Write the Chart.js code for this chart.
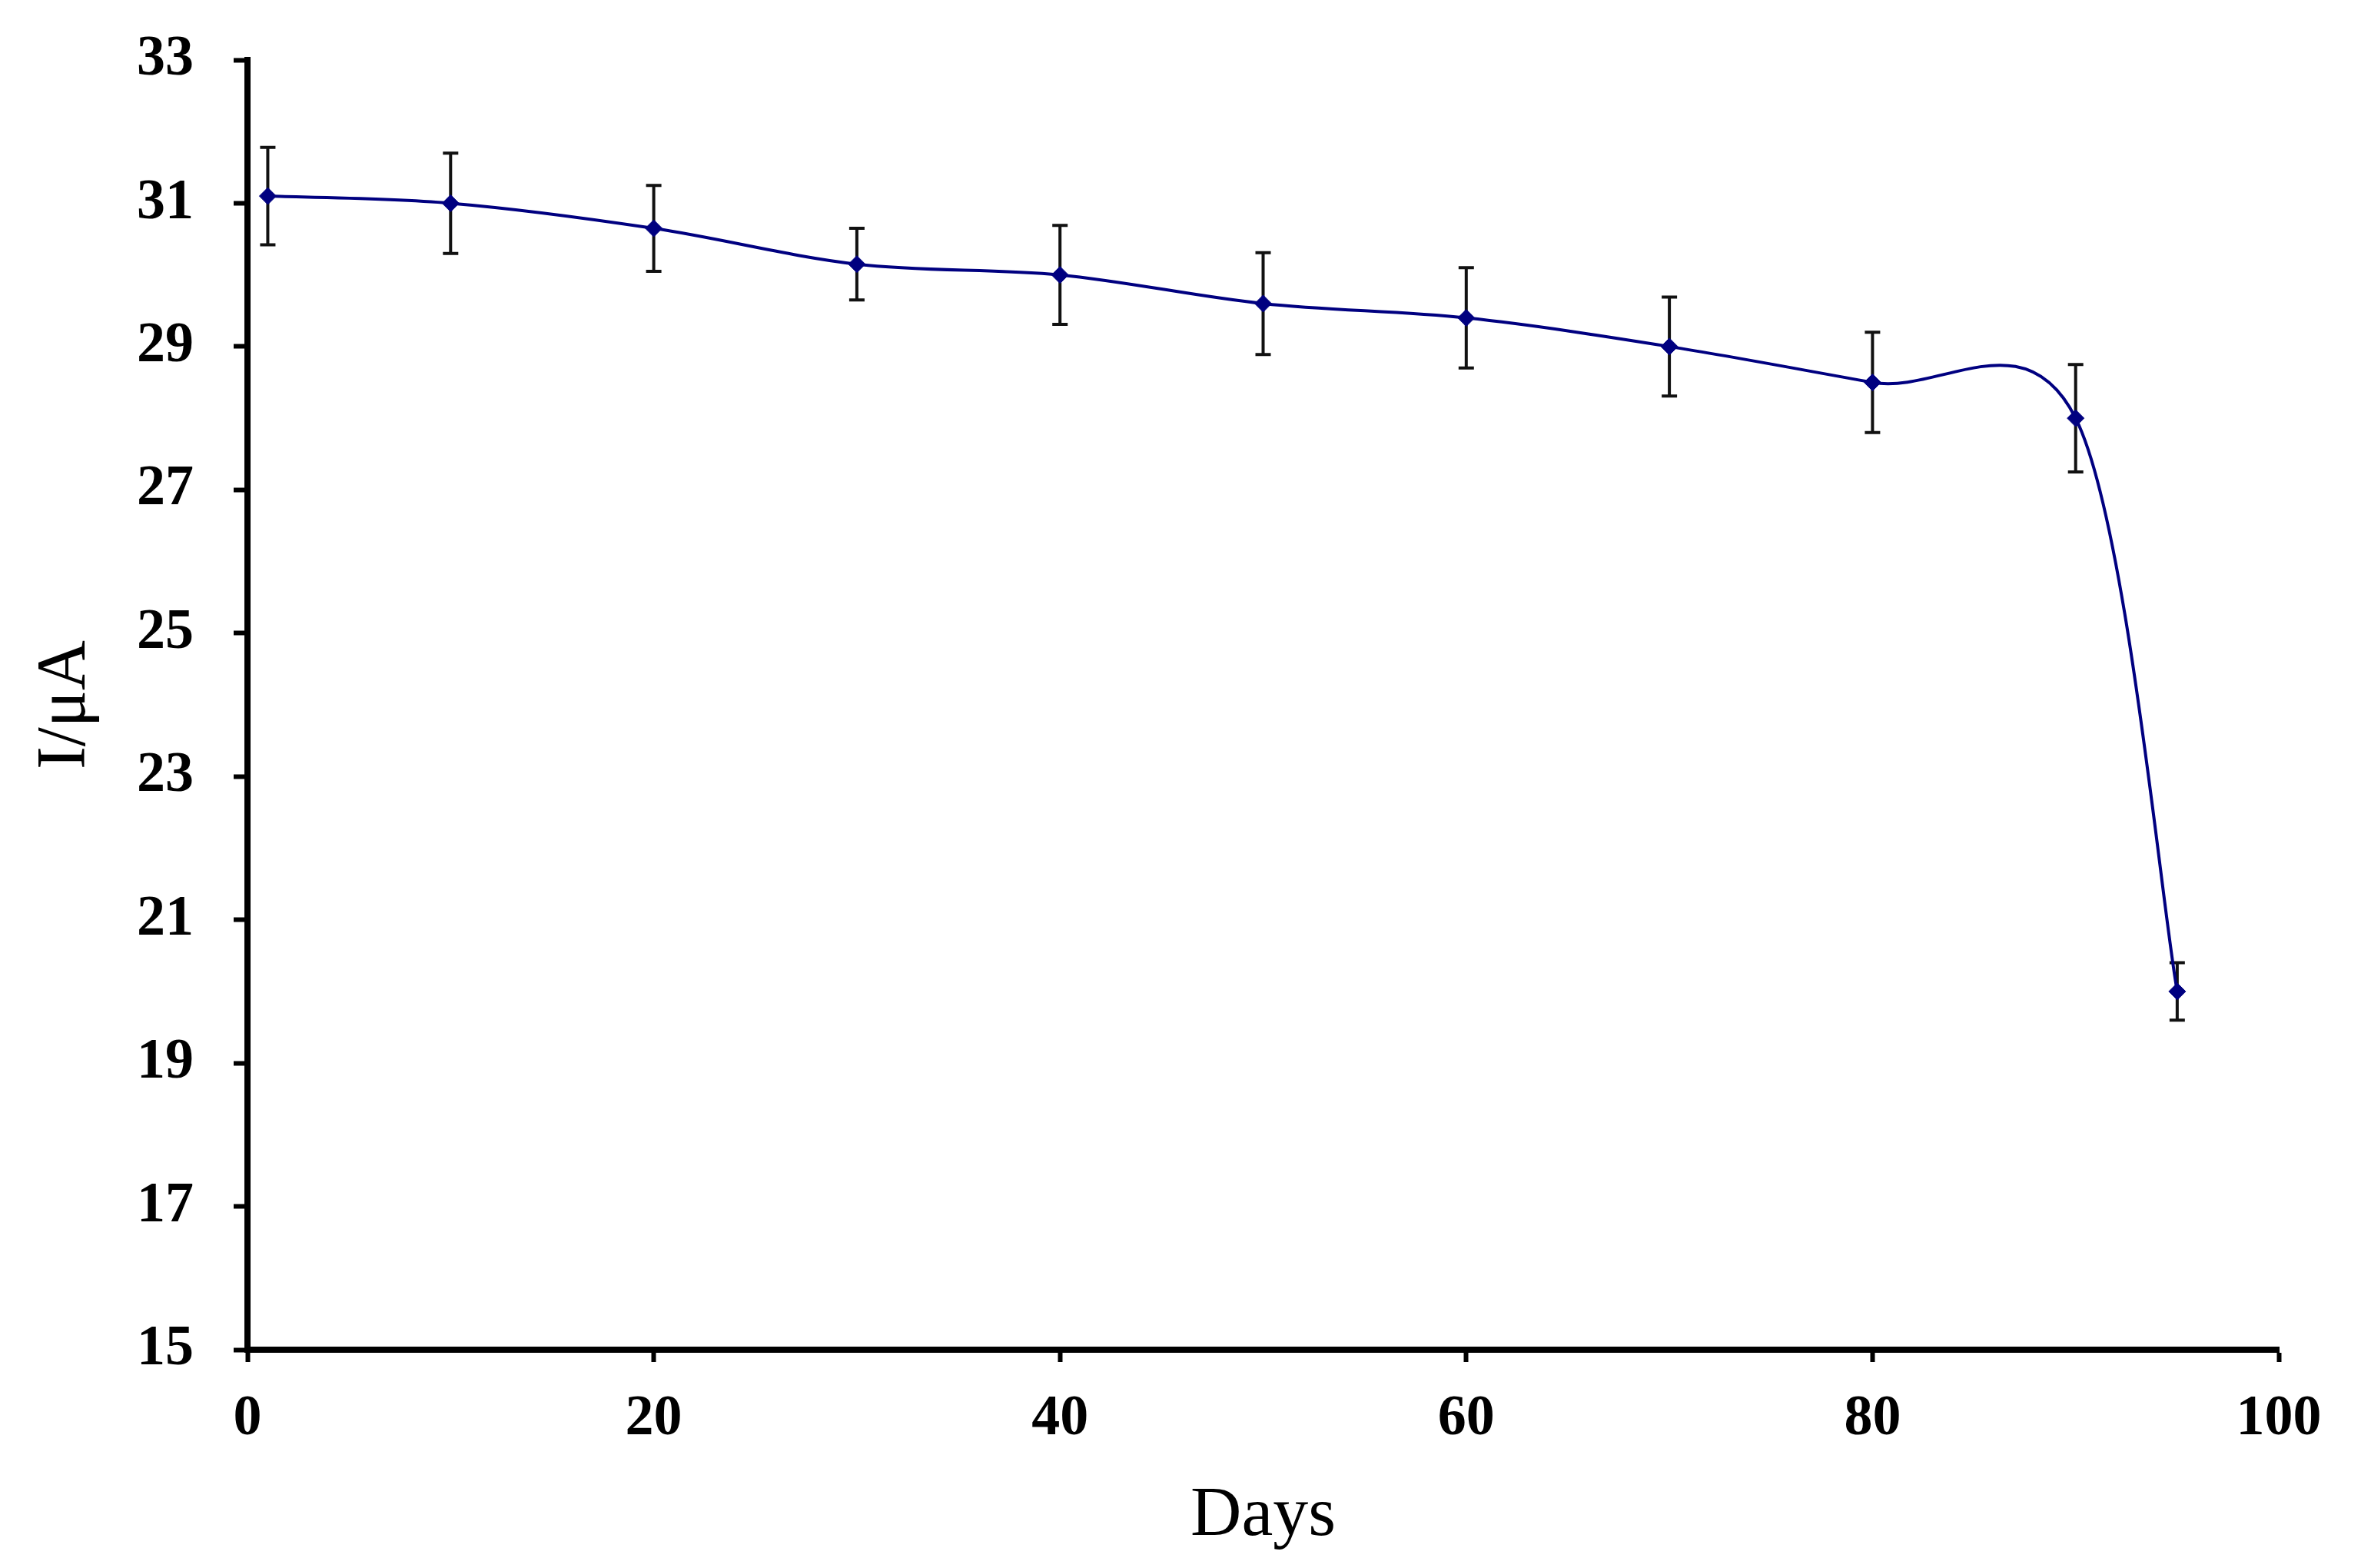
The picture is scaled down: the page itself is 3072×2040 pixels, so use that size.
<!DOCTYPE html>
<html>
<head>
<meta charset="utf-8">
<script src="https://cdn.jsdelivr.net/npm/chart.js@4/dist/chart.umd.min.js"></script>
<style>
  html, body { margin: 0; padding: 0; background: #fff; }
  #wrap { width: 3072px; height: 2040px; }
</style>
</head>
<body>
<div id="wrap"><canvas id="stabilityChart" width="3072" height="2040"></canvas></div>
<script>
// Data
const days = [1, 10, 20, 30, 40, 50, 60, 70, 80, 90, 95];
const current = [31.1, 31.0, 30.65, 30.15, 30.0, 29.6, 29.4, 29.0, 28.5, 28.0, 20.0];
const currentErr = [0.68, 0.7, 0.6, 0.5, 0.69, 0.71, 0.7, 0.69, 0.7, 0.75, 0.4];
const xTicks = [0, 20, 40, 60, 80, 100];
const yTicks = [15, 17, 19, 21, 23, 25, 27, 29, 31, 33];

const serif = "'Liberation Serif', 'Times New Roman', serif";

// Draws vertical error bars using the chart's scales
const errorBars = {
  id: 'errorBars',
  beforeDatasetsDraw(chart) {
    const ctx = chart.ctx;
    const xs = chart.scales.x;
    const ys = chart.scales.y;
    ctx.save();
    ctx.strokeStyle = '#111';
    ctx.lineWidth = 4;
    for (let i = 0; i < days.length; i++) {
      const px = xs.getPixelForValue(days[i]);
      const top = ys.getPixelForValue(current[i] + currentErr[i]);
      const bot = ys.getPixelForValue(current[i] - currentErr[i]);
      ctx.beginPath();
      ctx.moveTo(px, top);
      ctx.lineTo(px, bot);
      ctx.moveTo(px - 10, top);
      ctx.lineTo(px + 10, top);
      ctx.moveTo(px - 10, bot);
      ctx.lineTo(px + 10, bot);
      ctx.stroke();
    }
    ctx.restore();
  }
};

// Spreadsheet-style smoothing: plain Catmull-Rom control points (1/6 of the neighbour span)
const smoothLine = {
  id: 'smoothLine',
  beforeDatasetsDraw(chart) {
    const meta = chart.getDatasetMeta(0);
    meta.dataset.updateControlPoints(chart.chartArea, 'x');
    const pts = meta.data;
    for (let i = 0; i < pts.length; i++) {
      const p = pts[i];
      const prev = pts[i - 1] || p;
      const next = pts[i + 1] || p;
      const dx = (next.x - prev.x) / 6;
      const dy = (next.y - prev.y) / 6;
      p.cp1x = p.x - dx;
      p.cp1y = p.y - dy;
      p.cp2x = p.x + dx;
      p.cp2y = p.y + dy;
    }
  }
};

// Keep the layout padding in charge of the plot edges
function noLabelPadding(scale) {
  scale.paddingTop = 0;
  scale.paddingBottom = 0;
  scale.paddingLeft = 0;
  scale.paddingRight = 0;
}

const points = days.map((d, i) => ({ x: d, y: current[i] }));

new Chart(document.getElementById('stabilityChart'), {
  type: 'line',
  data: {
    datasets: [{
      data: points,
      borderColor: '#000080',
      borderWidth: 4,
      tension: 0.5,
      pointStyle: 'rectRot',
      pointRadius: 11,
      pointBackgroundColor: '#000080',
      pointBorderColor: '#000080',
      pointBorderWidth: 1,
      fill: false
    }]
  },
  options: {
    responsive: false,
    devicePixelRatio: 1,
    animation: false,
    layout: { padding: { top: 78, right: 107, bottom: 0, left: 0 } },
    plugins: {
      legend: { display: false },
      tooltip: { enabled: false }
    },
    scales: {
      x: {
        type: 'linear',
        min: 0,
        max: 100,
        afterBuildTicks(scale) { scale.ticks = xTicks.map(v => ({ value: v })); },
        afterFit(scale) { scale.height = 284; noLabelPadding(scale); },
        grid: { drawOnChartArea: false, drawTicks: true, tickLength: 16, tickWidth: 6, tickColor: '#000' },
        border: { display: true, color: '#000', width: 8 },
        ticks: {
          color: '#000',
          padding: 30,
          maxRotation: 0,
          font: { family: serif, size: 74, weight: 'bold' }
        },
        title: {
          display: true,
          text: 'Days',
          color: '#000',
          padding: { top: 0, bottom: 12 },
          font: { family: serif, size: 92 }
        }
      },
      y: {
        min: 15,
        max: 33,
        afterBuildTicks(scale) { scale.ticks = yTicks.map(v => ({ value: v })); },
        afterFit(scale) { scale.width = 322; noLabelPadding(scale); },
        grid: { drawOnChartArea: false, drawTicks: true, tickLength: 18, tickWidth: 6, tickColor: '#000' },
        border: { display: true, color: '#000', width: 8 },
        ticks: {
          color: '#000',
          padding: 52,
          font: { family: serif, size: 74, weight: 'bold' }
        },
        title: {
          display: true,
          text: 'I/μA',
          color: '#000',
          padding: { top: 32, bottom: 0 },
          font: { family: serif, size: 90 }
        }
      }
    }
  },
  plugins: [errorBars, smoothLine]
});
</script>
</body>
</html>
